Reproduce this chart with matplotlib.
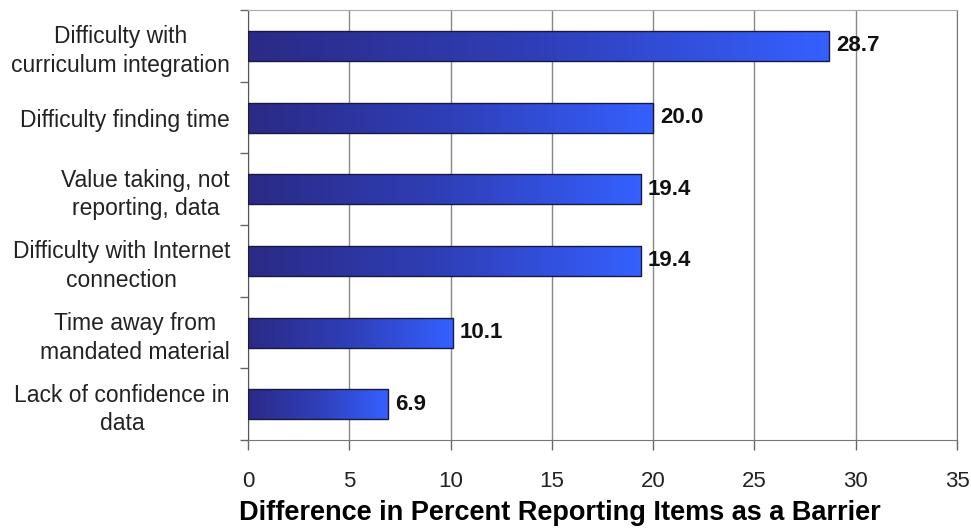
import matplotlib.pyplot as plt
import numpy as np
from matplotlib.colors import LinearSegmentedColormap

plt.rcParams['font.family'] = ['Liberation Sans', 'DejaVu Sans']

categories = ["Difficulty with\ncurriculum integration",
              "Difficulty finding time",
              "Value taking, not\nreporting, data",
              "Difficulty with Internet\nconnection",
              "Time away from\nmandated material",
              "Lack of confidence in\ndata"]
values = [28.7, 20.0, 19.4, 19.4, 10.1, 6.9]
xticks = [0, 5, 10, 15, 20, 25, 30, 35]

grad = LinearSegmentedColormap.from_list("bar", ["#2b2a86", "#2f3fb8", "#3560ff"])

fig = plt.figure(figsize=(9.71, 5.29), dpi=100)
ax = fig.add_axes([0.2554, 0.168, 0.7302, 0.813])

y = np.arange(len(categories))
bars = ax.barh(y, values, height=0.42, color="none", edgecolor="#1a1a40", linewidth=1.0, zorder=3)

g = np.linspace(0, 1, 256).reshape(1, -1)
for b in bars:
    x0, y0 = b.get_x(), b.get_y()
    w, h = b.get_width(), b.get_height()
    im = ax.imshow(g, cmap=grad, aspect="auto", extent=[x0, x0 + w, y0 + h, y0],
                   zorder=2, interpolation="bilinear")
    im.set_clip_path(b)

for yi, v in zip(y, values):
    ax.text(v + 0.35, yi, f"{v:.1f}", va="center", ha="left",
            fontsize=16, fontweight="bold", color="#111111", zorder=4)

ax.set_xlim(0, 35)
ax.set_ylim(len(categories) - 0.5, -0.5)
ax.set_xticks(xticks)
ax.set_xticklabels([str(t) for t in xticks], fontsize=16, color="#222222")
ax.tick_params(axis="x", length=7, width=1, color="#666666", pad=15)
ax.set_yticks(y)
ax.set_yticklabels(categories, fontsize=16.5, color="#222222", linespacing=1.3,
                   multialignment="center")
ax.tick_params(axis="y", length=0, pad=13)
ax.set_yticks(np.arange(-0.5, len(categories)), minor=True)
ax.tick_params(axis="y", which="minor", length=6, width=1, color="#666666")

ax.grid(axis="x", color="#888888", linewidth=1, zorder=1)
ax.set_axisbelow(True)
ax.spines["left"].set_color("#555555")
ax.spines["bottom"].set_color("#777777")
ax.spines["top"].set_color("#aaaaaa")
ax.spines["right"].set_color("#777777")

ax.set_xlabel("Difference in Percent Reporting Items as a Barrier",
              fontsize=19.5, fontweight="bold", va="center")
ax.xaxis.set_label_coords(0.44, -0.17)

fig.savefig("out.png", dpi=100)
